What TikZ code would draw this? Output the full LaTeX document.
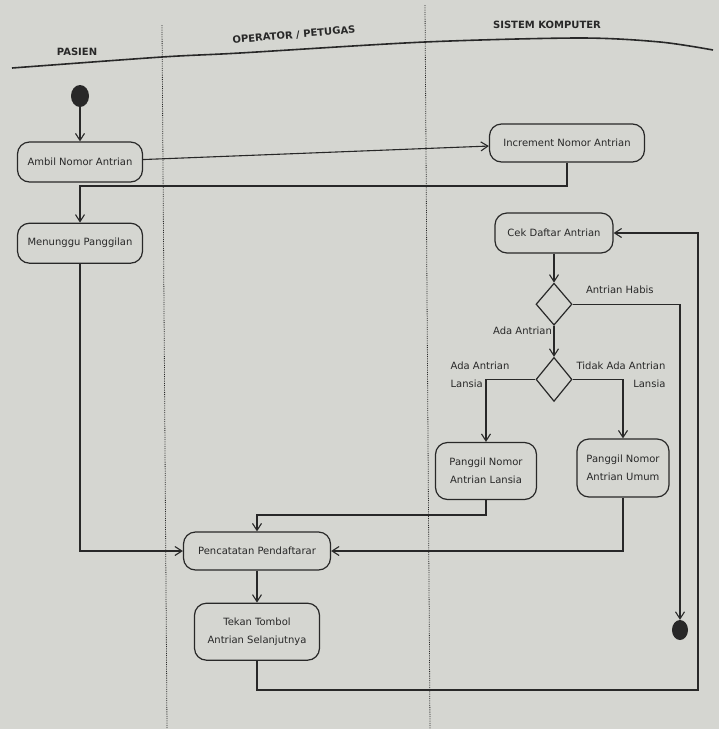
\documentclass[tikz,border=0pt]{standalone}
\usepackage{fontspec}
\setmainfont{DejaVu Sans}
\usepackage{tikz}
\usetikzlibrary{arrows.meta,positioning,shapes.geometric,calc}
\definecolor{paper}{RGB}{213,214,209}
\definecolor{ink}{RGB}{40,40,40}

\begin{document}
\begin{tikzpicture}[x=1pt, y=-1pt,
  font=\fontsize{10}{18}\selectfont, node distance=40pt,
  act/.style={draw=ink, line width=1.2pt, rounded corners=12pt, align=center, minimum height=40pt, inner sep=2pt, text=ink},
  dec/.style={draw=ink, line width=1.2pt, diamond, minimum width=36pt, minimum height=42pt, inner sep=0pt},
  startdot/.style={fill=ink, ellipse, minimum width=18pt, minimum height=22pt, inner sep=0pt},
  lane/.style={font=\fontsize{10}{12}\selectfont\bfseries, text=ink},
  lbl/.style={inner sep=1.5pt, text=ink},
  arr/.style={-{Straight Barb[length=7pt, width=9pt]}, line width=1.1pt, draw=ink},
]
\fill[paper] (0,0) rectangle (719,729);
\useasboundingbox (0,0) rectangle (719,729);

% swimlanes
\draw[ink, line width=1.6pt] plot[smooth] coordinates {(12,68) (162,57) (240,53) (425,42) (580,38) (660,42) (713,50)};
\draw[ink, densely dotted, line width=0.8pt] (162,25) -- (167,729);
\draw[ink, densely dotted, line width=0.8pt] (425,5) -- (430,729);
\node[lane] (lpas) at (77,52) {PASIEN};
\node[lane, rotate=5] (lope) at (294,35) {OPERATOR / PETUGAS};
\node[lane] (lsis) at (547,25) {SISTEM KOMPUTER};

% activities
\node[startdot] (ini) at (80,96) {};
\node[act, minimum width=125pt] (amb) at (80,162) {Ambil Nomor Antrian};
\node[act, minimum width=125pt, below=40pt of amb] (tunggu) {Menunggu Panggilan};
\node[act, minimum width=155pt, minimum height=38pt] (inc) at (567,143) {Increment Nomor Antrian};
\node[act, minimum width=118pt] (cek) at (554,233) {Cek Daftar Antrian};
\node[dec, below=29pt of cek] (d1) {};
\node[dec, below=31pt of d1, minimum height=44pt] (d2) {};
\node[act, minimum width=101pt, minimum height=57pt] (lan) at (486,471) {Panggil Nomor\\Antrian Lansia};
\node[act, minimum width=92pt, minimum height=58pt] (umu) at (623,468) {Panggil Nomor\\Antrian Umum};
\node[act, minimum width=147pt, minimum height=38pt] (pen) at (257,551) {Pencatatan Pendaftarar};
\node[act, minimum width=125pt, minimum height=57pt, below=32pt of pen] (tek) {Tekan Tombol\\Antrian Selanjutnya};
\node[startdot, minimum width=16pt, minimum height=20pt] (akhir) at (680,630) {};

% flows
\coordinate (c1) at (567,186);
\coordinate (c2) at (486,515);
\coordinate (c3) at (698,690);
\draw[arr] (ini) -- (amb);
\draw[arr] (amb) -- (inc);
\draw[arr] (inc) -- (c1) -| (tunggu);
\draw[arr] (tunggu) |- (pen);
\draw[arr] (pen) -- (tek);
\draw[arr] (cek) -- (d1);
\draw[arr] (d1) -- node[lbl, left, pos=0.15]{Ada Antrian} (d2);
\draw[arr] (d1.east) -| node[lbl, above=9pt, pos=0.22]{Antrian Habis} (akhir);
\draw[arr] (d2.west) -| node[lbl, align=left, pos=0.5, xshift=-6pt, yshift=5pt]{Ada Antrian\\Lansia} (lan);
\draw[arr] (d2.east) -| node[lbl, align=right, pos=0.5, xshift=-2pt, yshift=5pt]{Tidak Ada Antrian\\Lansia} (umu);
\draw[arr] (lan) -- (c2) -| (pen);
\draw[arr] (umu) |- (pen);
\draw[arr] (tek) |- (c3) |- (cek);
\end{tikzpicture}
\end{document}
